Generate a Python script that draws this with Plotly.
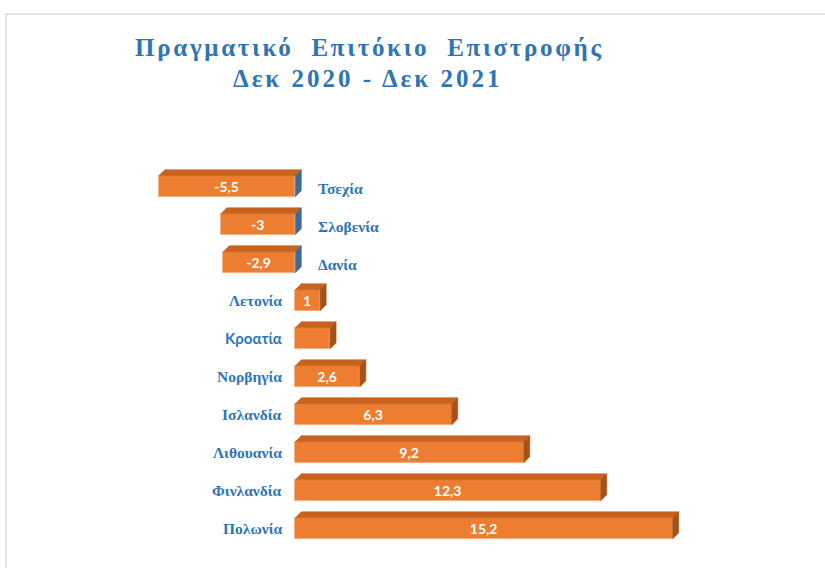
import plotly.graph_objects as go

# Real rate of return, Dec 2020 - Dec 2021
countries = ["Τσεχία", "Σλοβενία", "Δανία", "Λετονία", "Κροατία",
             "Νορβηγία", "Ισλανδία", "Λιθουανία", "Φινλανδία", "Πολωνία"]
values = [-5.5, -3, -2.9, 1, 1.4, 2.6, 6.3, 9.2, 12.3, 15.2]
value_labels = ["-5,5", "-3", "-2,9", "1", "", "2,6", "6,3", "9,2", "12,3", "15,2"]

W, H = 825, 568
PX_X = 24.83          # pixels per unit on x
PX_Y = 38.0           # pixels per category row
ZERO_PX = 295.3
FIRST_ROW_PX = 186.3
BAR_W = 21 / PX_Y
DX = 6 / PX_X         # depth of the 3D extrusion
DY = 6 / PX_Y

FRONT = "#ed7d31"
TOP = "#c8621d"
SIDE = "#a4521a"
SIDE_NEG = "#3f6b94"
BLUE = "#2e75b6"

ypos = list(range(len(countries)))

fig = go.Figure()

# top and side faces of each extruded bar
for i, v in zip(ypos, values):
    x0, x1 = min(0, v), max(0, v)
    yt, yb = i - BAR_W / 2, i + BAR_W / 2
    fig.add_trace(go.Scatter(
        x=[x0, x1, x1 + DX, x0 + DX, x0],
        y=[yt, yt, yt - DY, yt - DY, yt],
        fill="toself", fillcolor=TOP, mode="lines",
        line=dict(width=0.6, color=TOP), hoverinfo="skip", showlegend=False))
    fig.add_trace(go.Scatter(
        x=[x1, x1 + DX, x1 + DX, x1, x1],
        y=[yt, yt - DY, yb - DY, yb, yt],
        fill="toself", fillcolor=SIDE_NEG if v < 0 else SIDE, mode="lines",
        line=dict(width=0.6, color=SIDE_NEG if v < 0 else SIDE),
        hoverinfo="skip", showlegend=False))

# front faces
fig.add_trace(go.Bar(
    x=values, y=ypos, orientation="h", width=BAR_W,
    marker=dict(color=FRONT, line=dict(width=0.8, color="#f4a978")),
    text=value_labels, textposition="inside", insidetextanchor="middle",
    textangle=0, constraintext="none",
    textfont=dict(family="Lato", size=14, color="white", weight="bold"),
    showlegend=False, hoverinfo="skip"))

# category labels: right of zero for negatives, left of zero for positives
for i, (c, v) in enumerate(zip(countries, values)):
    fam = "Lato" if c == "Κροατία" else "Liberation Serif"
    if v < 0:
        fig.add_annotation(x=0, y=i, text=c, showarrow=False, xanchor="left",
                           xshift=21, yshift=-2,
                           font=dict(family=fam, size=15.5, color=BLUE, weight="bold"))
    else:
        fig.add_annotation(x=0, y=i, text=c, showarrow=False, xanchor="right",
                           xshift=-11,
                           font=dict(family=fam, size=15 if c == "Κροατία" else 15.5,
                                     color=BLUE, weight="bold"))

# title
title_font = dict(family="Liberation Serif", size=25, color=BLUE, weight="bold")
fig.add_annotation(xref="paper", yref="paper", x=369 / W, y=1 - 47 / H,
                   text='<span style="letter-spacing:2.7px">Πραγματικό  Επιτόκιο  Επιστροφής</span>',
                   showarrow=False, xanchor="center", yanchor="middle", font=title_font)
fig.add_annotation(xref="paper", yref="paper", x=367 / W, y=1 - 78 / H,
                   text='<span style="letter-spacing:3px">Δεκ 2020 - Δεκ 2021</span>',
                   showarrow=False, xanchor="center", yanchor="middle", font=title_font)

# chart frame
fig.add_shape(type="rect", xref="paper", yref="paper",
              x0=6 / W, x1=1.05, y0=-0.05, y1=1 - 14 / H,
              line=dict(color="#d9d9d9", width=1.5), layer="below")

fig.update_xaxes(range=[-ZERO_PX / PX_X, (W - ZERO_PX) / PX_X],
                 visible=False, domain=[0, 1], fixedrange=True)
fig.update_yaxes(range=[(H - FIRST_ROW_PX) / PX_Y, -FIRST_ROW_PX / PX_Y],
                 visible=False, domain=[0, 1], fixedrange=True)

fig.update_layout(width=W, height=H, margin=dict(l=0, r=0, t=0, b=0),
                  paper_bgcolor="white", plot_bgcolor="white", bargap=0)

fig.write_html("out.html")
